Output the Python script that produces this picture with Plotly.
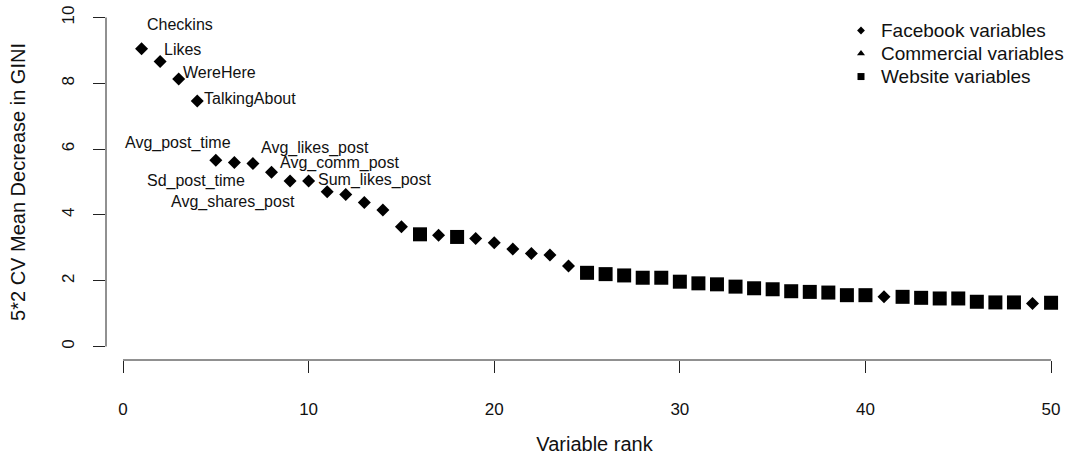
import plotly.graph_objects as go

# Variable importance ranking (random forest, 5x2 cross-validation)
ranks = list(range(1, 51))
gini_decrease = [
    9.05, 8.66, 8.13, 7.46, 5.66, 5.59, 5.56, 5.30, 5.03, 5.03,
    4.70, 4.62, 4.38, 4.15, 3.64, 3.41, 3.38, 3.33, 3.28, 3.15,
    2.96, 2.83, 2.78, 2.45, 2.24, 2.20, 2.16, 2.09, 2.09, 1.97,
    1.92, 1.89, 1.82, 1.77, 1.74, 1.68, 1.66, 1.64, 1.56, 1.56,
    1.51, 1.51, 1.48, 1.46, 1.46, 1.36, 1.34, 1.34, 1.31, 1.33,
]
var_group = (
    ["Facebook"] * 15
    + ["Website", "Facebook", "Website"]
    + ["Facebook"] * 6
    + ["Website"] * 16
    + ["Facebook"]
    + ["Website"] * 7
    + ["Facebook", "Website"]
)

# Named variables (by rank)
labelled_ranks = [1, 2, 3, 4, 5, 6, 7, 8, 9, 10]
label_names = [
    "Checkins", "Likes", "WereHere", "TalkingAbout", "Avg_post_time",
    "Sd_post_time", "Avg_likes_post", "Avg_comm_post", "Avg_shares_post",
    "Sum_likes_post",
]
# pixel offsets of each name from its point
label_offsets = [
    (38, 24), (22, 12), (41, 7), (53, 3), (-38, 17),
    (-38, -18), (62, 16), (68, 9), (-57, -21), (66, 1),
]

groups = ["Facebook", "Commercial", "Website"]
group_names = ["Facebook variables", "Commercial variables", "Website variables"]

FONT = "Liberation Sans, Arial, sans-serif"
INK = "#111111"

symbol_for = {"Facebook": "diamond", "Commercial": "triangle-up", "Website": "square"}
size_for = {"Facebook": 10, "Commercial": 11, "Website": 14}
legend_size = {"Facebook": 6, "Commercial": 7, "Website": 7}

fig = go.Figure()

fig.add_trace(go.Scatter(
    x=ranks,
    y=gini_decrease,
    mode="markers",
    marker=dict(
        symbol=[symbol_for[g] for g in var_group],
        size=[size_for[g] for g in var_group],
        color="black",
        opacity=1,
        line=dict(width=0),
    ),
    showlegend=False,
    hoverinfo="x+y",
))

# legend keys
for g, name in zip(groups, group_names):
    fig.add_trace(go.Scatter(
        x=[None], y=[None], mode="markers",
        name=f'<span style="font-size:19px">{name}</span>',
        marker=dict(symbol=symbol_for[g], size=legend_size[g], color="black",
                    opacity=1),
    ))

annotations = []
for r, name, (dx, dy) in zip(labelled_ranks, label_names, label_offsets):
    annotations.append(dict(
        x=r, y=gini_decrease[r - 1], xref="x", yref="y",
        text=name, showarrow=False, xanchor="center", yanchor="middle",
        xshift=dx, yshift=dy,
        font=dict(family=FONT, size=16, color=INK),
    ))

shapes = [
    # x axis line spans first to last tick
    dict(type="line", xref="x", yref="paper", x0=0, x1=50, y0=0, y1=0,
         line=dict(color="#222222", width=1)),
    # y axis line spans first to last tick
    dict(type="line", xref="paper", yref="y", x0=0, x1=0, y0=0, y1=10,
         line=dict(color="#222222", width=1)),
]

fig.update_layout(
    width=1083, height=461,
    margin=dict(l=106, r=0, t=4, b=101),
    paper_bgcolor="white", plot_bgcolor="white",
    font=dict(family=FONT, color=INK),
    annotations=annotations,
    shapes=shapes,
    showlegend=True,
    legend=dict(
        x=(841 - 106) / 977, xanchor="left",
        y=(360 - 14) / 356, yanchor="top",
        font=dict(family=FONT, size=15.4, color=INK),
        bgcolor="rgba(0,0,0,0)", borderwidth=0,
        itemclick=False, itemdoubleclick=False,
    ),
    xaxis=dict(
        range=[-0.916, 51.72],
        tickvals=[0, 10, 20, 30, 40, 50],
        ticks="outside", ticklen=12, tickwidth=1, tickcolor="#222222",
        showline=False, showgrid=False, zeroline=False,
        tickfont=dict(family=FONT, size=17, color=INK),
        ticklabelstandoff=22,
        title=dict(text="Variable rank", font=dict(family=FONT, size=20, color=INK),
                   standoff=18),
    ),
    yaxis=dict(
        range=[-0.41, 10.41],
        tickvals=[0, 2, 4, 6, 8, 10],
        ticks="outside", ticklen=12, tickwidth=1, tickcolor="#222222",
        tickangle=-90,
        showline=False, showgrid=False, zeroline=False,
        tickfont=dict(family=FONT, size=17, color=INK),
        ticklabelstandoff=12,
        title=dict(text="5*2 CV Mean Decrease in GINI",
                   font=dict(family=FONT, size=20, color=INK), standoff=28),
    ),
)

fig.write_html("out.html")
